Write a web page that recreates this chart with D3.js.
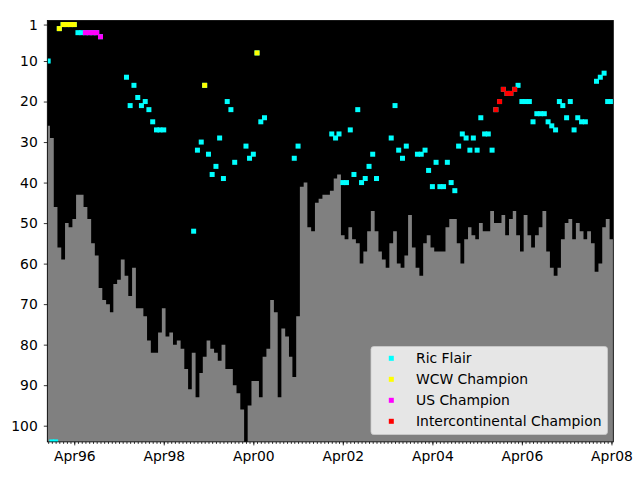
<!DOCTYPE html>
<html>
<head>
<meta charset="utf-8">
<script src="https://cdn.jsdelivr.net/npm/d3@7"></script>
<style>
body { margin: 0; background: #fff; }
svg text { font-family: "DejaVu Sans", sans-serif; font-size: 13.9px; fill: #000; }
</style>
</head>
<body>
<svg id="chart" width="640" height="480"></svg>
<script>
// monthly data, first month is Sep 1995
var startMonth = "1995-09";

// grey bars (rank, drawn from the bottom of the plot)
var barRank = [26,29,46,56,59,50,51,49,43,43,
	46,49,55,58,66,69,70,72,65,64,
	59,63,68,61,71,71,73,79,82,82,
	77,71,78,77,80,79,81,86,91,82,
	93,87,83,79,81,82,84,80,86,86,
	90,92,96,104,95,89,89,93,83,81,
	69,72,93,76,78,83,88,73,41,40,
	51,52,45,44,43,43,42,39,38,53,
	54,51,54,55,60,57,52,47,52,57,
	59,61,55,52,60,61,58,48,56,61,
	63,55,53,56,57,57,57,51,49,49,
	55,60,54,51,53,54,50,52,52,47,
	50,50,48,53,49,47,53,57,48,53,
	56,53,51,47,57,61,63,61,54,50,
	49,54,50,52,54,52,55,62,60,51,
	49,54];

// Ric Flair rank per month (null = not ranked)
var flairRank = [10,104,104,2,1,1,1,1,3,3,
	3,3,3,3,4,null,null,null,null,null,
	null,14,21,16,19,21,20,22,25,27,
	27,27,null,null,null,null,null,null,null,52,
	32,30,16,33,38,36,29,39,20,22,
	35,null,null,31,34,33,8,25,24,null,
	null,null,null,null,null,null,34,31,null,null,
	null,null,null,null,null,null,28,29,28,40,
	40,27,38,22,40,39,36,33,39,null,
	null,null,29,21,32,34,31,null,null,33,
	33,32,37,41,35,41,41,35,40,42,
	31,28,29,32,29,32,24,28,28,32,
	22,20,17,18,18,17,16,20,20,20,
	25,23,23,23,25,26,27,20,21,24,
	20,27,24,25,25,null,null,15,14,13,
	20,20];

// months holding a title
var wcwMonths = ["1995-12","1996-01","1996-02","1996-03","1996-04","1999-03","2000-05"];
var usMonths = ["1996-07","1996-08","1996-09","1996-10","1996-11"];
var icMonths = ["2005-09","2005-10","2005-11","2005-12","2006-01","2006-02"];

var seriesNames = ["Ric Flair","WCW Champion","US Champion","Intercontinental Champion"];
var seriesColors = ["#00ffff","#ffff00","#ff00ff","#ff0000"];

var yTicks = [1,10,20,30,40,50,60,70,80,90,100];
var xTickLabels = ["1996-04","1998-04","2000-04","2002-04","2004-04","2006-04","2008-04"];

var parseMonth = d3.timeParse("%Y-%m");
var fmtMonth = d3.timeFormat("%Y-%m");
var start = parseMonth(startMonth);

var months = barRank.map(function(d, i) { return d3.timeMonth.offset(start, i); });

var svg = d3.select("#chart");

var x = d3.scaleTime()
	.domain([new Date(1995, 7, 25), new Date(2008, 3, 16)])
	.range([47.3, 613.3]);

var y = d3.scaleLinear()
	.domain([0, 104])
	.range([20.5, 441.9]);

var bw = (x(months[months.length - 1]) - x(months[0])) / (months.length - 1);

svg.append("defs").append("clipPath").attr("id", "plotclip")
	.append("rect")
	.attr("x", x.range()[0]).attr("y", y.range()[0])
	.attr("width", x.range()[1] - x.range()[0])
	.attr("height", y.range()[1] - y.range()[0]);

svg.append("rect")
	.attr("x", x.range()[0]).attr("y", y.range()[0])
	.attr("width", x.range()[1] - x.range()[0])
	.attr("height", y.range()[1] - y.range()[0])
	.style("fill", "#000");

var plot = svg.append("g").attr("clip-path", "url(#plotclip)");

// grey bars as one stepped area (no seams between bars)
var steps = barRank.map(function(v, i) { return {x: x(months[i]) - bw / 2, v: v}; });
steps.push({x: x(months[months.length - 1]) + bw / 2, v: barRank[barRank.length - 1]});

plot.append("path")
	.datum(steps)
	.attr("d", d3.area()
		.x(function(d) { return d.x; })
		.y0(y(104))
		.y1(function(d) { return y(d.v); })
		.curve(d3.curveStepAfter))
	.style("fill", "#808080");

var ms = 5; // marker size

function drawMarkers(pts, colour) {
	plot.append("g").selectAll("rect")
		.data(pts)
		.enter().append("rect")
		.attr("x", function(d) { return x(d.date) - ms / 2; })
		.attr("y", function(d) { return y(d.rank) - ms / 2; })
		.attr("width", ms)
		.attr("height", ms)
		.style("fill", colour);
}

var flairPts = [];
flairRank.forEach(function(r, i) {
	if (r != null) flairPts.push({date: months[i], rank: r});
});

function titlePts(list) {
	return list.map(function(m) {
		var d = parseMonth(m);
		var i = d3.timeMonth.count(start, d);
		return {date: d, rank: flairRank[i]};
	});
}

drawMarkers(flairPts, seriesColors[0]);
drawMarkers(titlePts(wcwMonths), seriesColors[1]);
drawMarkers(titlePts(usMonths), seriesColors[2]);
drawMarkers(titlePts(icMonths), seriesColors[3]);

// frame
svg.append("rect")
	.attr("x", x.range()[0]).attr("y", y.range()[0])
	.attr("width", x.range()[1] - x.range()[0])
	.attr("height", y.range()[1] - y.range()[0])
	.style("fill", "none").style("stroke", "#000").style("stroke-width", 0.8);

// axes
var xMinor = svg.append("g")
	.attr("transform", "translate(0," + y.range()[1] + ")")
	.call(d3.axisBottom(x)
		.tickValues(d3.timeMonth.range(x.domain()[0], x.domain()[1]))
		.tickSize(2)
		.tickFormat(""));
xMinor.select(".domain").remove();

var xAxis = svg.append("g")
	.attr("transform", "translate(0," + y.range()[1] + ")")
	.call(d3.axisBottom(x)
		.tickValues(xTickLabels.map(parseMonth))
		.tickSize(3.5)
		.tickPadding(6)
		.tickFormat(d3.timeFormat("%b%y")));
xAxis.select(".domain").remove();

var yAxis = svg.append("g")
	.attr("transform", "translate(" + x.range()[0] + ",0)")
	.call(d3.axisLeft(y)
		.tickValues(yTicks)
		.tickSize(3.5)
		.tickPadding(6));
yAxis.select(".domain").remove();

svg.selectAll(".tick line").style("stroke", "#000").style("stroke-width", 0.8);
svg.selectAll(".tick text").style("font-family", "DejaVu Sans").style("font-size", "13.9px");
svg.selectAll("g").filter(function() { return this.getAttribute("font-family"); })
	.attr("font-family", null).attr("font-size", null);

// legend
var legend = svg.append("g");
legend.append("rect")
	.attr("x", 371).attr("y", 346.5)
	.attr("width", 236.5).attr("height", 88)
	.attr("rx", 2.8)
	.style("fill", "#fff").style("fill-opacity", 0.8)
	.style("stroke", "#ccc").style("stroke-opacity", 0.8);

var rows = legend.selectAll(".entry")
	.data(seriesNames)
	.enter().append("g")
	.attr("class", "entry")
	.attr("transform", function(d, i) { return "translate(0," + (358.3 + i * 21) + ")"; });

rows.append("rect")
	.attr("x", 391.3 - ms / 2).attr("y", -ms / 2)
	.attr("width", ms).attr("height", ms)
	.style("fill", function(d, i) { return seriesColors[i]; });

rows.append("text")
	.attr("x", 416)
	.attr("dy", "0.36em")
	.text(function(d) { return d; });
</script>
</body>
</html>
